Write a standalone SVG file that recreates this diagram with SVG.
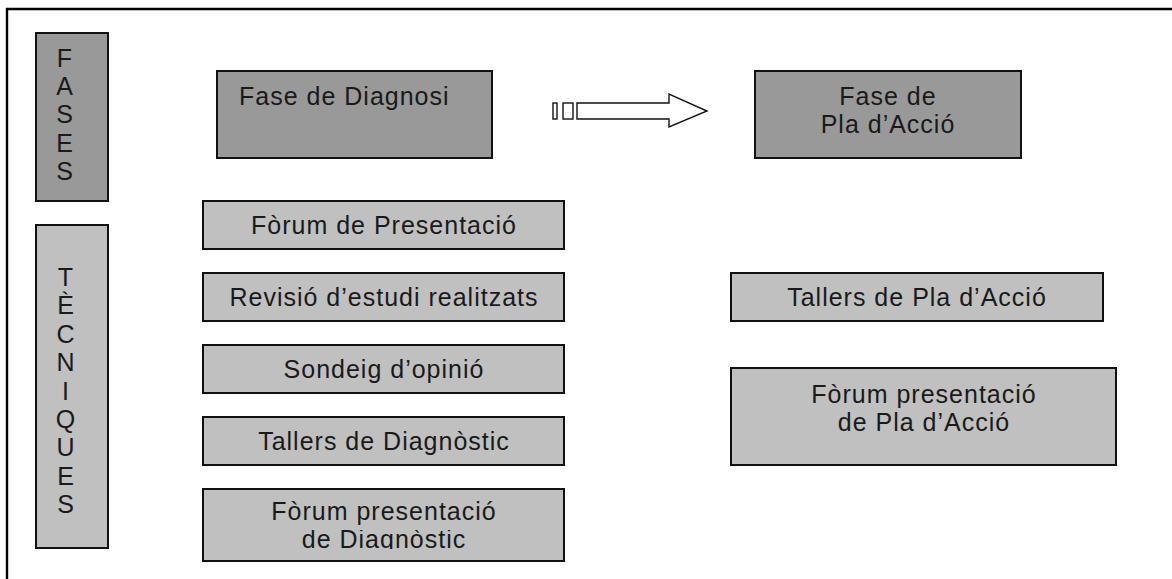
<svg xmlns="http://www.w3.org/2000/svg" width="1172" height="579" viewBox="0 0 1172 579">
<style>
.dark{fill:#999999;stroke:#111;stroke-width:2}
.light{fill:#c0c0c0;stroke:#111;stroke-width:2}
text{font-family:"Liberation Sans",Arial,sans-serif;font-size:25px;fill:#1a1a1a;letter-spacing:1px}
.c{text-anchor:middle}
.arr{fill:#fff;stroke:#111;stroke-width:1.4}
</style>
<defs>
<clipPath id="clipDiag"><rect x="203" y="530" width="362" height="19"/></clipPath>
</defs>
<rect width="1172" height="579" fill="#fff"/>
<path d="M7,579 V9 H1172" fill="none" stroke="#000" stroke-width="2.4"/>

<g id="fases">
<rect class="dark" x="36" y="33" width="72" height="168"/>
<text class="c"><tspan x="65" y="67">F</tspan><tspan x="65" y="95">A</tspan><tspan x="65" y="123">S</tspan><tspan x="65" y="152">E</tspan><tspan x="65" y="180">S</tspan></text>
</g>

<g id="tecniques">
<rect class="light" x="36" y="225" width="72" height="323"/>
<text class="c"><tspan x="66" y="286">T</tspan><tspan x="66" y="314">È</tspan><tspan x="66" y="343">C</tspan><tspan x="66" y="371">N</tspan><tspan x="66" y="400">I</tspan><tspan x="66" y="428">Q</tspan><tspan x="66" y="456">U</tspan><tspan x="66" y="485">E</tspan><tspan x="66" y="513">S</tspan></text>
</g>

<g id="fase-diagnosi">
<rect class="dark" x="217" y="71" width="275" height="87"/>
<text x="239" y="105">Fase de Diagnosi</text>
</g>

<g id="fase-pla">
<rect class="dark" x="755" y="71" width="266" height="87"/>
<text class="c"><tspan x="888" y="105">Fase de</tspan><tspan x="888" y="133">Pla d’Acció</tspan></text>
</g>

<g id="forum-presentacio">
<rect class="light" x="203" y="201" width="361" height="48"/>
<text class="c" x="384" y="234">Fòrum de Presentació</text>
</g>

<g id="revisio">
<rect class="light" x="203" y="273" width="361" height="48"/>
<text class="c" x="384" y="306">Revisió d’estudi realitzats</text>
</g>

<g id="sondeig">
<rect class="light" x="203" y="345" width="361" height="48"/>
<text class="c" x="384" y="378">Sondeig d’opinió</text>
</g>

<g id="tallers-diagnostic">
<rect class="light" x="203" y="417" width="361" height="48"/>
<text class="c" x="384" y="450">Tallers de Diagnòstic</text>
</g>

<g id="forum-diagnostic">
<rect class="light" x="203" y="489" width="361" height="72"/>
<text class="c" x="384" y="520">Fòrum presentació</text>
<text class="c" x="384" y="548" clip-path="url(#clipDiag)">de Diagnòstic</text>
</g>

<g id="tallers-pla">
<rect class="light" x="731" y="273" width="372" height="48"/>
<text class="c" x="917" y="306">Tallers de Pla d’Acció</text>
</g>

<g id="forum-pla">
<rect class="light" x="731" y="368" width="385" height="97"/>
<text class="c"><tspan x="924" y="403">Fòrum presentació</tspan><tspan x="924" y="431">de Pla d’Acció</tspan></text>
</g>

<g id="connectors">
<rect class="arr" x="553" y="103" width="4" height="16"/>
<rect class="arr" x="563" y="103" width="10" height="16"/>
<path class="arr" d="M577,103 H669 V94 L707,111 L669,127 V119 H577 Z"/>
</g>
</svg>
